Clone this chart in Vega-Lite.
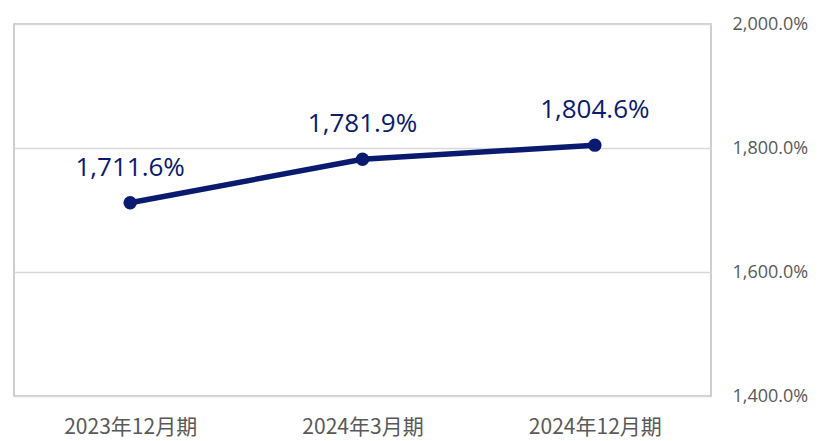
{
  "$schema": "https://vega.github.io/schema/vega-lite/v6.json",
  "width": 697,
  "height": 372,
  "autosize": {"type": "none"},
  "padding": {"left": 14, "top": 24, "right": 115, "bottom": 45},
  "background": "white",
  "config": {
    "view": {"stroke": "#bfbfbf", "strokeWidth": 1.5},
    "font": "Noto Sans"
  },
  "data": {
    "values": [
      {"period": "2023年12月期", "ratio": 17.116},
      {"period": "2024年3月期", "ratio": 17.819},
      {"period": "2024年12月期", "ratio": 18.046}
    ]
  },
  "encoding": {
    "x": {
      "field": "period", "type": "ordinal", "sort": null,
      "scale": {"type": "point", "padding": 0.5},
      "axis": {"title": null, "labelAngle": 0, "domain": false, "ticks": false, "grid": false,
        "labelFont": "Noto Sans CJK JP", "labelFontSize": 21, "labelColor": "#595959", "labelPadding": 20}
    },
    "y": {
      "field": "ratio", "type": "quantitative",
      "scale": {"domain": [14, 20], "nice": false, "zero": false},
      "axis": {"title": null, "orient": "right", "values": [14, 16, 18, 20], "format": ",.1%",
        "domain": false, "ticks": false, "gridColor": "#d9d9d9", "gridWidth": 1.5,
        "labelFontSize": 18, "labelColor": "#595959", "labelPadding": 21, "labelFont": "Open Sans"}
    }
  },
  "layer": [
    {"mark": {"type": "line", "color": "#0a1a6e", "strokeWidth": 5.5}},
    {"mark": {"type": "point", "filled": true, "opacity": 1, "color": "#0a1a6e", "size": 180}},
    {"mark": {"type": "text", "dy": -35, "fontSize": 26, "color": "#0a1a6e", "font": "Open Sans"},
     "encoding": {"text": {"field": "ratio", "type": "quantitative", "format": ",.1%"}}}
  ]
}
